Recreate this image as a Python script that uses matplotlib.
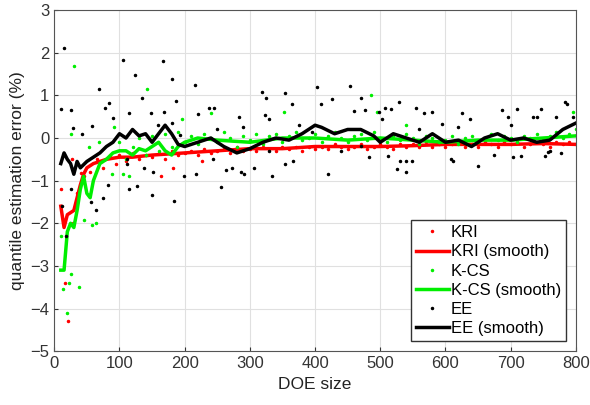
import numpy as np
import matplotlib.pyplot as plt

# smoothed curves
kri_sx = [10, 15, 20, 25, 30, 35, 40, 45, 50, 60, 70, 80, 100, 120, 150, 200, 250, 300, 350, 400, 450, 500, 550, 600, 650, 700, 750, 800]
kri_sy = [-1.6, -2.1, -1.8, -1.75, -1.7, -1.4, -1.1, -0.85, -0.7, -0.6, -0.55, -0.5, -0.45, -0.45, -0.4, -0.35, -0.3, -0.25, -0.25, -0.2, -0.2, -0.2, -0.18, -0.15, -0.15, -0.15, -0.13, -0.15]

kcs_sx = [10, 15, 20, 25, 30, 35, 40, 45, 50, 55, 60, 70, 80, 90, 100, 110, 120, 130, 140, 150, 160, 170, 180, 190, 200, 220, 250, 300, 350, 400, 450, 500, 550, 600, 650, 700, 750, 800]
kcs_sy = [-3.1, -3.1, -2.2, -2.0, -2.1, -1.7, -1.2, -0.9, -1.3, -1.4, -1.0, -0.6, -0.5, -0.35, -0.3, -0.3, -0.4, -0.25, -0.3, -0.2, -0.1, -0.3, -0.4, -0.2, -0.1, 0.0, -0.05, -0.1, 0.0, 0.0, -0.05, 0.0, -0.05, -0.1, -0.05, -0.05, 0.0, 0.05]

ee_sx = [10, 15, 20, 25, 30, 35, 40, 50, 60, 70, 80, 90, 100, 110, 120, 130, 140, 150, 160, 170, 180, 190, 200, 220, 240, 260, 280, 300, 320, 340, 360, 380, 400, 410, 430, 450, 470, 490, 500, 520, 540, 560, 580, 600, 620, 640, 660, 680, 700, 720, 740, 760, 780, 800]
ee_sy = [-0.6, -0.35, -0.5, -0.6, -0.85, -0.55, -0.7, -0.55, -0.45, -0.35, -0.2, -0.1, 0.1, 0.0, 0.2, 0.05, 0.1, -0.1, 0.1, 0.3, 0.1, -0.15, -0.2, -0.1, 0.0, -0.2, -0.35, -0.25, -0.1, 0.0, -0.05, 0.1, 0.3, 0.25, 0.1, 0.2, 0.2, 0.05, -0.1, 0.1, 0.0, -0.1, 0.1, -0.1, -0.05, -0.2, 0.0, 0.1, -0.05, 0.0, -0.1, -0.05, 0.2, 0.35]

# raw points
ee_x = [15, 11, 26, 29, 43, 58, 69, 78, 84, 90, 106, 115, 124, 135, 148, 159, 166, 169, 181, 187, 193, 216, 220, 238, 245, 284, 290, 323, 319, 324, 330, 354, 365, 376, 403, 409,
        112, 114, 127, 137, 150, 152, 184, 199, 217, 74, 64, 57, 18, 12, 25, 112, 243, 256, 263, 272, 286, 291, 306, 334, 354, 366, 420, 83,
        454, 426, 470, 476, 460, 498, 503, 507, 517, 529, 555, 567, 579, 594, 626, 638, 687, 696, 710, 734, 740, 746, 770, 783, 786, 795,
        483, 512, 525, 531, 539, 540, 549, 608, 611, 650, 674, 704, 716, 753, 758, 761, 777, 470, 395, 440, 560, 620, 700, 330, 250, 180]
ee_y = [2.1, 0.68, 0.65, 0.23, 0.1, 0.28, 1.16, 0.7, 0.82, 0.46, 1.83, 0.58, 1.47, 0.93, 0.58, 0.3, 1.8, 0.6, 1.38, 0.87, 0.08, 1.24, 0.57, 0.7, 0.7, 0.5, 0.25, 0.53, 1.08, 0.93, 0.45, 1.05, 0.8, 0.3, 1.2, 0.8,
        -0.6, -1.2, -1.13, -0.7, -1.33, -0.8, -1.48, -0.9, -0.85, -1.4, -1.7, -1.5, -2.3, -1.6, -1.2, -0.5, -0.5, -1.15, -0.75, -0.7, -0.8, -0.85, -0.7, -0.9, -0.6, -0.55, -0.85, -1.1,
        1.22, 0.91, 0.93, 0.65, 0.63, 0.6, 0.45, 0.7, 0.68, 0.85, 0.7, 0.58, 0.6, 0.33, 0.58, 0.45, 0.65, 0.5, 0.68, 0.5, 0.5, 0.68, 0.5, 0.85, 0.8, 0.5,
        -0.45, -0.42, -0.72, -0.55, -0.8, -0.55, -0.55, -0.5, -0.55, -0.65, -0.4, -0.45, -0.42, -0.42, -0.32, -0.3, -0.35, -0.18, 0.15, -0.3, 0.2, 0.25, 0.3, -0.3, 0.2, 0.35]

kcs_x = [31, 25, 142, 196, 240, 352, 92, 53, 69, 114, 106, 89, 46, 58, 64, 11, 25, 14, 22, 20, 38, 486, 495, 540, 795,
         100, 110, 120, 130, 140, 150, 160, 170, 180, 190, 200, 210, 220, 230, 240, 250, 260, 270, 280, 290, 300, 310, 320, 330, 340, 350, 360, 370, 380, 390, 400,
         410, 420, 430, 440, 450, 460, 470, 480, 490, 500, 510, 520, 530, 540, 550, 560, 570, 580, 590, 600, 610, 620, 630, 640, 650, 660, 670, 680, 690, 700,
         710, 720, 730, 740, 750, 760, 770, 780, 790, 800]
kcs_y = [1.7, 0.1, 1.15, 0.45, 0.58, 0.6, 0.25, -0.2, -0.1, -0.9, -0.85, -0.85, -1.93, -2.05, -2.0, -2.3, -3.2, -3.55, -3.4, -4.1, -3.5, 1.0, 0.6, 0.3, 0.6,
         -0.1, -0.5, -0.2, 0.0, -0.4, 0.05, -0.3, 0.1, -0.2, 0.15, -0.1, 0.05, -0.15, 0.1, 0.0, -0.1, 0.15, 0.0, -0.2, 0.05, -0.05, 0.1, -0.15, 0.05, 0.1, -0.1, 0.05, 0.15, -0.05, 0.0, 0.1,
         -0.1, 0.05, 0.15, 0.0, -0.1, 0.05, 0.1, -0.05, 0.15, 0.0, -0.1, 0.05, -0.05, 0.1, 0.0, -0.15, 0.05, 0.0, -0.1, -0.05, 0.05, -0.15, 0.0, 0.05, -0.1, 0.0, 0.1, -0.05, 0.05, 0.0,
         -0.1, 0.05, 0.0, 0.1, -0.05, 0.05, 0.15, 0.0, 0.1, 0.2]

kri_x = [11, 17, 21, 27, 29, 41, 164, 182, 227, 35, 45, 55, 65, 75, 85, 95,
         100, 110, 120, 130, 140, 150, 160, 170, 180, 190, 200, 210, 220, 230, 240, 250, 260, 270, 280, 290, 300, 310, 320, 330, 340, 350, 360, 370, 380, 390, 400,
         410, 420, 430, 440, 450, 460, 470, 480, 490, 500, 510, 520, 530, 540, 550, 560, 570, 580, 590, 600, 610, 620, 630, 640, 650, 660, 670, 680, 690, 700,
         710, 720, 730, 740, 750, 760, 770, 780, 790, 800]
kri_y = [-1.2, -3.4, -4.3, -0.5, -2.0, -0.83, -0.9, -0.7, -0.55, -1.3, -0.9, -0.8, -0.5, -0.7, -0.45, -0.6,
         -0.4, -0.55, -0.35, -0.5, -0.4, -0.45, -0.35, -0.5, -0.3, -0.4, -0.35, -0.3, -0.4, -0.25, -0.35, -0.3, -0.25, -0.35, -0.2, -0.3, -0.25, -0.3, -0.2, -0.25, -0.3, -0.2, -0.25, -0.2, -0.3, -0.2, -0.25,
         -0.2, -0.25, -0.15, -0.2, -0.25, -0.2, -0.15, -0.25, -0.2, -0.15, -0.2, -0.25, -0.15, -0.2, -0.15, -0.2, -0.1, -0.2, -0.15, -0.2, -0.15, -0.1, -0.2, -0.15, -0.2, -0.1, -0.15, -0.2, -0.1, -0.15,
         -0.1, -0.2, -0.15, -0.1, -0.15, -0.2, -0.1, -0.15, -0.1, -0.15]

plt.rcParams['font.family'] = ['Liberation Sans', 'DejaVu Sans']
fig = plt.figure(figsize=(5.9, 4.05), dpi=100)
ax = fig.add_axes([0.092, 0.133, 0.884, 0.842])

ax.plot(kri_x, kri_y, '.', color='red', ms=3, label='KRI')
ax.plot(kri_sx, kri_sy, '-', color='red', lw=2.5, label='KRI (smooth)')
ax.plot(kcs_x, kcs_y, '.', color='#00ee00', ms=3, label='K-CS')
ax.plot(kcs_sx, kcs_sy, '-', color='#00ee00', lw=2.5, label='K-CS (smooth)')
ax.plot(ee_x, ee_y, '.', color='black', ms=3, label='EE')
ax.plot(ee_sx, ee_sy, '-', color='black', lw=2.5, label='EE (smooth)')

ax.set_xlim(0, 800)
ax.set_ylim(-5, 3)
ax.set_xticks(range(0, 801, 100))
ax.set_yticks(range(-5, 4))
ax.grid(True, color='#e0e0e0', lw=0.8)
ax.set_axisbelow(True)
ax.tick_params(labelsize=12, direction='in', length=3, colors='#333333')
ax.set_xlabel('DOE size', fontsize=12.5, color='#222222')
ax.set_ylabel('quantile estimation error (%)', fontsize=12.5, color='#222222')
for s in ax.spines.values():
    s.set_color('#555555')
leg = ax.legend(loc='lower right', fontsize=12, fancybox=False, edgecolor='#333333', framealpha=1,
                handlelength=2.0, handletextpad=0.1, labelspacing=0.25, borderaxespad=0.6, borderpad=0.3)

fig.savefig('out.png', dpi=100)
